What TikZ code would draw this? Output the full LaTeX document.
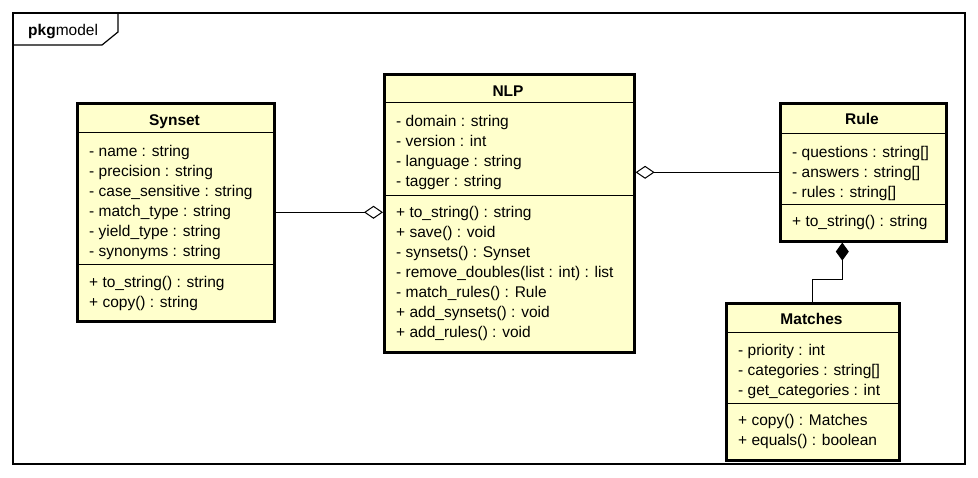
\documentclass[tikz,border=0pt]{standalone}
\usepackage{fontspec}
\setmainfont{Liberation Sans}
\usetikzlibrary{arrows.meta}
\definecolor{classfill}{HTML}{FFFFCC}
\begin{document}
\begin{tikzpicture}[x=1pt,y=-1pt,
  classbox/.style={draw=black, fill=classfill, line width=2.6pt, rectangle, inner sep=0pt, anchor=north west},
  sepline/.style={line width=1pt},
  ttl/.style={font=\bfseries, anchor=base, inner sep=0pt},
  mem/.style={anchor=base west, inner sep=0pt},
  frame/.style={line width=1.2pt},
  aggr/.style={line width=1pt, -{Diamond[open, fill=white, length=19pt, width=13pt, line width=1pt]}},
  comp/.style={line width=1pt, -{Diamond[fill=black, length=18pt, width=13pt]}}
]
\fontsize{15.5}{20}\selectfont
\useasboundingbox (0,0) rectangle (978,478);
% package frame
\draw[frame] (13,13) rectangle (965,464);
\draw[frame] (118,13) -- (118,32) -- (102,45) -- (13,45);
\node[mem] (pkg) at (28,36) {\textbf{pkg}model};

% Synset
\node[classbox, minimum width=197pt, minimum height=218pt] (synset) at (76,102) {};
\draw[sepline] (76,133) -- (273,133);
\draw[sepline] (76,265) -- (273,265);
\node[ttl] (synsett) at (174.5,126) {Synset};
\node[mem] (sa1) at (89,157) {- name : string};
\node[mem] (sa2) at (89,177) {- precision : string};
\node[mem] (sa3) at (89,197) {- case\_sensitive : string};
\node[mem] (sa4) at (89,217) {- match\_type : string};
\node[mem] (sa5) at (89,237) {- yield\_type : string};
\node[mem] (sa6) at (89,257) {- synonyms : string};
\node[mem] (sm1) at (89,288) {+ to\_string() : string};
\node[mem] (sm2) at (89,308) {+ copy() : string};

% NLP
\node[classbox, minimum width=250pt, minimum height=278pt] (nlp) at (383,73) {};
\draw[sepline] (383,103) -- (633,103);
\draw[sepline] (383,196) -- (633,196);
\node[ttl] (nlpt) at (508,97) {NLP};
\node[mem] (na1) at (396,127) {- domain : string};
\node[mem] (na2) at (396,147) {- version : int};
\node[mem] (na3) at (396,167) {- language : string};
\node[mem] (na4) at (396,187) {- tagger : string};
\node[mem] (nm1) at (396,218) {+ to\_string() : string};
\node[mem] (nm2) at (396,238) {+ save() : void};
\node[mem] (nm3) at (396,258) {- synsets() : Synset};
\node[mem] (nm4) at (396,278) {- remove\_doubles(list : int) : list};
\node[mem] (nm5) at (396,298) {- match\_rules() : Rule};
\node[mem] (nm6) at (396,318) {+ add\_synsets() : void};
\node[mem] (nm7) at (396,338) {+ add\_rules() : void};

% Rule
\node[classbox, minimum width=166pt, minimum height=138pt] (rule) at (779,102) {};
\draw[sepline] (779,134) -- (945,134);
\draw[sepline] (779,205) -- (945,205);
\node[ttl] (rulet) at (862,125) {Rule};
\node[mem] (ra1) at (792,158) {- questions : string[]};
\node[mem] (ra2) at (792,178) {- answers : string[]};
\node[mem] (ra3) at (792,198) {- rules : string[]};
\node[mem] (rm1) at (792,227) {+ to\_string() : string};

% Matches
\node[classbox, minimum width=173pt, minimum height=157pt] (matches) at (725,302) {};
\draw[sepline] (725,333) -- (898,333);
\draw[sepline] (725,404) -- (898,404);
\node[ttl] (matchest) at (811.5,325) {Matches};
\node[mem] (ma1) at (738,356) {- priority : int};
\node[mem] (ma2) at (738,376) {- categories : string[]};
\node[mem] (ma3) at (738,396) {- get\_categories : int};
\node[mem] (mm1) at (738,426) {+ copy() : Matches};
\node[mem] (mm2) at (738,446) {+ equals() : boolean};

% connectors
\draw[aggr] (synset.east) -- (synset.east -| nlp.west);
\draw[aggr] (rule.west) -- (rule.west -| nlp.east);
\coordinate (rj) at ([xshift=-21pt]rule.south);
\draw[comp] (matches.north) -- (matches.north |- 0,280) -| (rj);
\end{tikzpicture}
\end{document}
